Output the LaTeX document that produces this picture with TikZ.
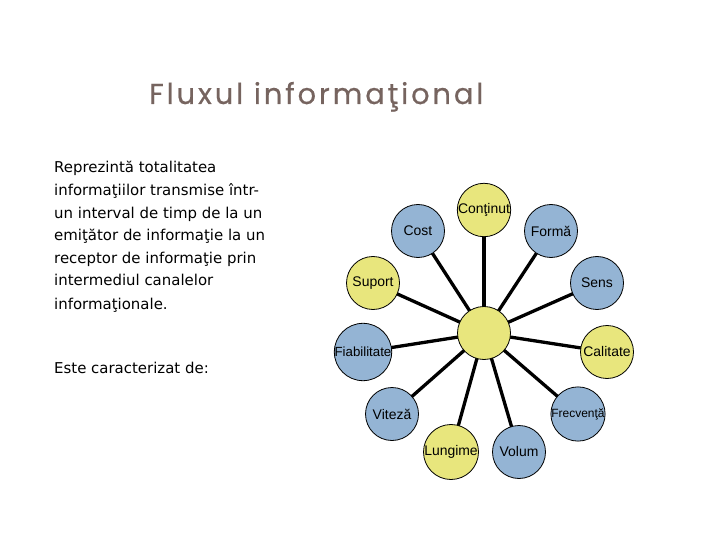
\documentclass[tikz,border=0pt]{standalone}
\usepackage{fontspec}
\setmainfont{Liberation Sans}
\newfontfamily\titlefont[LetterSpace=10,FakeBold=0.5]{Poppins}
\newfontfamily\bodyfont{DejaVu Sans}
\definecolor{ylw}{RGB}{232,230,125}
\definecolor{blu}{RGB}{148,180,212}
\definecolor{ttl}{RGB}{118,100,95}
\begin{document}
\begin{tikzpicture}[x=1bp,y=-1bp,
  bub/.style={circle,draw=black,line width=0.8bp,minimum size=53bp,inner sep=0pt,font=\fontsize{14}{16}\selectfont},
  yb/.style={bub,fill=ylw},
  bb/.style={bub,fill=blu},
  spoke/.style={line width=3.3bp,black},
  bline/.style={anchor=base west,inner sep=0pt,font=\bodyfont\fontsize{15}{17}\selectfont}]
\useasboundingbox (0,0) rectangle (720,540);
\node[anchor=base west,inner sep=0pt,text=ttl,font=\titlefont\fontsize{29}{34}\selectfont] (title) at (149,104) {Fluxul informaţional};
\node[bline] (l1) at (54,173) {Reprezintă totalitatea};
\node[bline] (l2) at (54,196) {informaţiilor transmise într-};
\node[bline] (l3) at (54,219) {un interval de timp de la un};
\node[bline] (l4) at (54,241) {emiţător de informaţie la un};
\node[bline] (l5) at (54,264) {receptor de informaţie prin};
\node[bline] (l6) at (54,286) {intermediul canalelor};
\node[bline] (l7) at (54,309) {informaţionale.};
\node[bline] (l8) at (54,373) {Este caracterizat de:};
\coordinate (c) at (484,333);
\foreach \p in {(484,210),(418,231),(551,231),(373,283),(597,283),(363,352),(607,352),(392,414),(578,414),(451,452),(519,452)}
  \draw[spoke] (c) -- \p;
\node[yb] (ctr) at (c) {};
\node[yb] (cont) at (484,210) {Conţinut};
\node[bb] (cost) at (418,231) {Cost};
\node[bb] (forma) at (551,231) {Formă};
\node[yb] (suport) at (373,283) {Suport};
\node[bb] (sens) at (597,283) {Sens};
\node[bb,font=\fontsize{13.3}{15}\selectfont] (fiab) at (363,352) {Fiabilitate};
\node[yb] (cal) at (607,352) {Calitate};
\node[bb] (viteza) at (392,414) {Viteză};
\node[bb,font=\fontsize{12}{14}\selectfont] (frecv) at (578,414) {Frecvenţă};
\node[yb] (lung) at (451,452) {Lungime};
\node[bb] (volum) at (519,452) {Volum};
\end{tikzpicture}
\end{document}
